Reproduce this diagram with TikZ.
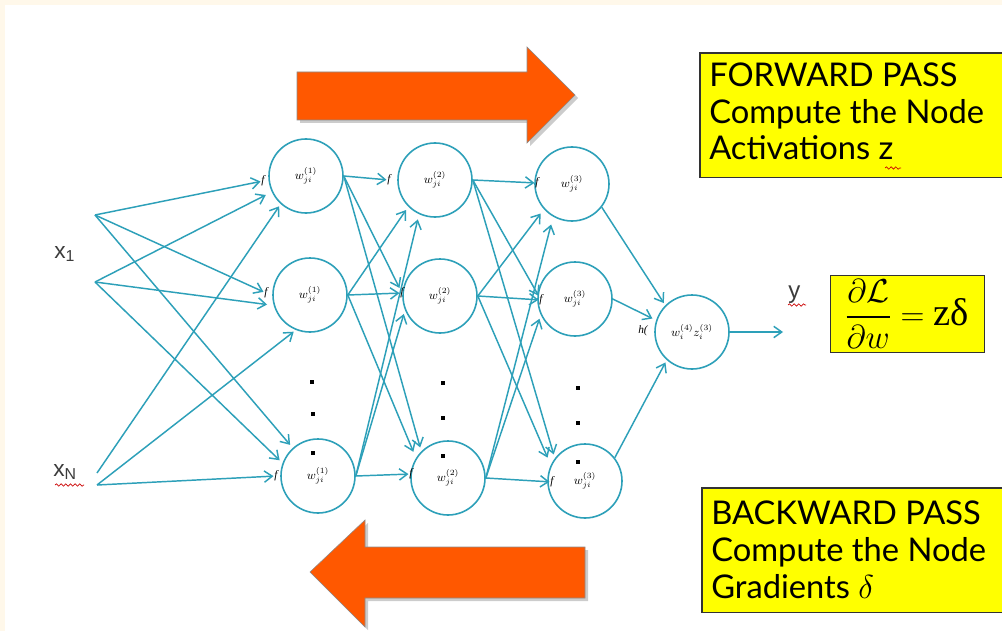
\documentclass[tikz,border=0pt]{standalone}
\usepackage{fontspec}
\usepackage{amsmath}
\setmainfont{Liberation Serif}
\newfontfamily\boxfont{Lato}
\newfontfamily\lblfont{Liberation Sans}
\usetikzlibrary{arrows.meta,decorations.pathmorphing,calc}
\definecolor{nncol}{RGB}{45,160,185}
\definecolor{orng}{RGB}{255,88,0}
\definecolor{cream}{RGB}{255,248,234}
\definecolor{ylw}{RGB}{255,255,0}
\definecolor{lblgray}{RGB}{60,60,60}
\begin{document}
\begin{tikzpicture}[x=0.75pt,y=-0.75pt,
  neuron/.style={circle,draw=nncol,line width=1.2pt,minimum size=55.5pt,inner sep=0pt,fill=white,font=\fontsize{9}{10}\selectfont},
  ln/.style={draw=nncol,line width=1.1pt,-{Straight Barb[length=6pt,width=8.5pt]}},
  flab/.style={inner sep=0.5pt,font=\fontsize{8.5}{9}\selectfont\itshape},
  ybox/.style={draw=black!80,line width=1pt,fill=ylw,inner sep=0pt},
  yfill/.style={fill=ylw,inner sep=0pt},
  yedge/.style={draw=black!80,line width=1pt},
  btext/.style={anchor=base west,inner sep=0pt,font=\boxfont\fontsize{24.5}{28}\selectfont},
  wavy/.style={draw=red!80!black,line width=0.5pt,decorate,decoration={snake,amplitude=0.9pt,segment length=3.5pt}},
  bigarrow/.style={fill=orng,draw=black!45,line width=0.4pt},
  dotm/.style={fill=black,minimum size=2.8pt,inner sep=0pt},
  inlab/.style={text=lblgray,inner sep=0pt,font=\lblfont\fontsize{17}{18}\selectfont}]
\useasboundingbox (0,0) rectangle (1002,631);
\clip (0,0) rectangle (1002,631);
\fill[cream] (0,0) rectangle (1002,631);
\fill[white] (5,5) rectangle (1002,631);

% big arrows
\fill[black,opacity=0.2] (300,75) -- (530,75) -- (530,50) -- (578,98) -- (530,146) -- (530,123) -- (300,123) -- cycle;
\path[bigarrow] (297,72) -- (527,72) -- (527,47) -- (575,95) -- (527,143) -- (527,120) -- (297,120) -- cycle;
\fill[black,opacity=0.2] (588,550) -- (368,550) -- (368,523) -- (313,575) -- (368,630) -- (368,601) -- (588,601) -- cycle;
\path[bigarrow] (585,547) -- (365,547) -- (365,520) -- (310,572) -- (365,627) -- (365,598) -- (585,598) -- cycle;

% neurons
\node[neuron] (a1) at (306,176) {$w^{(1)}_{ji}$};
\node[neuron] (a2) at (310,295) {$w^{(1)}_{ji}$};
\node[neuron] (a3) at (318,476) {$w^{(1)}_{ji}$};
\node[neuron] (b1) at (435,180) {$w^{(2)}_{ji}$};
\node[neuron] (b2) at (440,296) {$w^{(2)}_{ji}$};
\node[neuron] (b3) at (448,478) {$w^{(2)}_{ji}$};
\node[neuron] (c1) at (572,184) {$w^{(3)}_{ji}$};
\node[neuron] (c2) at (575,299) {$w^{(3)}_{ji}$};
\node[neuron] (c3) at (585,481) {$w^{(3)}_{ji}$};
\node[neuron] (o) at (692,332) {$w^{(4)}_{i}z^{(3)}_{i}$};

% f labels
\node[flab] (fa1) at (263,181) {f};
\node[flab] (fa2) at (266,293) {f};
\node[flab] (fa3) at (276,476) {f};
\node[flab] (fb1) at (389,180) {f};
\node[flab] (fb2) at (402,293) {f};
\node[flab] (fb3) at (411,474) {f};
\node[flab] (fc1) at (537,183) {f};
\node[flab] (fc2) at (541,300) {f};
\node[flab] (fc3) at (552,482) {f};
\node[flab] (ho) at (643,331) {h(};

% dots
\foreach \x/\y [count=\i] in {312/382,313/414,313/453,443/383,443/418,443/456,578/388,578/423,578/462}
  \node[dotm] (dot\i) at (\x,\y) {};

% inputs
\coordinate (A) at (95,215);
\coordinate (B) at (95,282);
\coordinate (C) at (97,473);
\coordinate (D) at (97,485);
\node[inlab,anchor=base west] (x1) at (54,258) {x\textsubscript{1}};
\node[inlab,anchor=base west] (xN) at (53,476) {x\textsubscript{N}};
\draw[wavy] (55,485) -- (84,485);

\draw[ln] (A) -- (fa1);
\draw[ln] (A) -- (fa2);
\draw[ln,shorten >=3pt] (A) -- (a3.132);
\draw[ln,shorten >=5pt] (B) -- (a1.205);
\draw[ln,shorten >=5pt] (B) -- (a2.196);
\draw[ln,shorten >=3pt] (B) -- (a3.160);
\draw[ln,shorten >=2pt] (C) -- (a1.228);
\draw[ln,shorten >=2pt] (D) -- (a2.248);
\draw[ln] (D) -- (fa3);

% layer 1 -> 2
\draw[ln] (a1.east) -- (fb1);
\draw[ln] (a1.east) -- (fb2);
\draw[ln,shorten >=3pt] (a1.east) -- (b3.135);
\draw[ln,shorten >=3pt] (a2.east) -- (b1.225);
\draw[ln] (a2.east) -- (fb2);
\draw[ln,shorten >=5pt] (a2.east) -- (b3.148);
\draw[ln,shorten >=4pt] (a3.east) -- (b1.245);
\draw[ln,shorten >=3pt] (a3.east) -- (b2.202);
\draw[ln] (a3.east) -- (fb3);

% layer 2 -> 3
\draw[ln] (b1.east) -- (fc1);
\draw[ln] (b1.east) -- (fc2);
\draw[ln,shorten >=3pt] (b1.east) -- (c3.143);
\draw[ln,shorten >=4pt] (b2.east) -- (c1.222);
\draw[ln] (b2.east) -- (fc2);
\draw[ln,shorten >=6pt] (b2.east) -- (c3.155);
\draw[ln,shorten >=6pt] (b3.east) -- (c1.240);
\draw[ln,shorten >=3pt] (b3.east) -- (c2.205);
\draw[ln] (b3.east) -- (fc3);

% layer 3 -> out
\draw[ln,shorten >=2pt] (c1.-38) -- (o.135);
\draw[ln,shorten >=3pt] (c2.east) -- (o.162);
\draw[ln,shorten >=2pt] (c3.38) -- (o.228);
\coordinate (yend) at (783,332);
\draw[ln] (o.east) -- (yend);

% y label
\node[inlab,anchor=base west,font=\lblfont\fontsize{18}{18}\selectfont] (yl) at (788,298) {y};
\draw[wavy] (788,305) -- (806,305);

% formula box
\node[ybox,anchor=north west,minimum width=115.5pt,minimum height=57.75pt] (fbox) at (830,275) {};
\node[inner sep=0pt] (form) at (907,314) {\fontsize{25}{28}\selectfont$\dfrac{\partial\mathcal{L}}{\partial w}={}$\fontsize{29}{30}\selectfont zδ};

% forward box (runs off the right edge)
\node[yfill,anchor=north west,minimum width=260pt,minimum height=93pt] (fwd) at (700,53) {};
\draw[yedge] (fwd.north east) -- (fwd.north west) -- (fwd.south west) -- (fwd.south east);
\node[btext] (fw1) at (709,87) {FORWARD PASS};
\node[btext] (fw2) at (709,124) {Compute the Node};
\node[btext] (fw3) at (709,160) {Activations z};
\draw[wavy] (885,168) -- (901,168);

% backward box (runs off the right edge)
\node[yfill,anchor=north west,minimum width=260pt,minimum height=93pt] (bwd) at (702,488) {};
\draw[yedge] (bwd.north east) -- (bwd.north west) -- (bwd.south west) -- (bwd.south east);
\node[btext] (bw1) at (711,524) {BACKWARD PASS};
\node[btext] (bw2) at (711,561) {Compute the Node};
\node[btext] (bw3) at (711,598) {Gradients $\delta$};
\end{tikzpicture}
\end{document}
